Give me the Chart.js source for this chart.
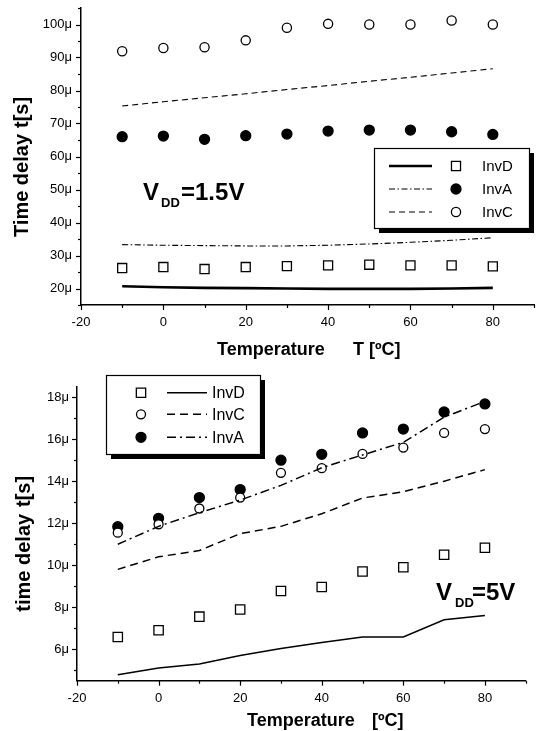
<!DOCTYPE html>
<html>
<head>
<meta charset="utf-8">
<script src="https://cdn.jsdelivr.net/npm/chart.js@4.4.1/dist/chart.umd.min.js"></script>
<style>
  html, body { margin: 0; padding: 0; background: #fff; }
  #wrap { position: relative; width: 537px; height: 731px; }
  canvas { position: absolute; left: 0; }
  #topChart { top: 0; }
  #botChart { top: 365px; }
</style>
</head>
<body>
<div id="wrap">
  <canvas id="topChart" width="537" height="365"></canvas>
  <canvas id="botChart" width="537" height="366"></canvas>
</div>
<script>
// temperaturas (ºC)
const temps = [-10, 0, 10, 20, 30, 40, 50, 60, 70, 80];
const xTickVals = [-20, -10, 0, 10, 20, 30, 40, 50, 60, 70, 80, 90];
const yTickValsTop = [15, 20, 25, 30, 35, 40, 45, 50, 55, 60, 65, 70, 75, 80, 85, 90, 95, 100, 105];
const yTickValsBot = [5, 6, 7, 8, 9, 10, 11, 12, 13, 14, 15, 16, 17, 18];

// VDD = 1.5V, retardo en μs
const invD15Pts = [26.2, 26.5, 25.9, 26.5, 26.8, 27.0, 27.2, 27.0, 27.0, 26.7];
const invA15Pts = [66.0, 66.2, 65.2, 66.3, 66.8, 67.7, 68.0, 68.0, 67.5, 66.7];
const invC15Pts = [91.9, 92.9, 93.1, 95.2, 99.0, 100.2, 100.0, 100.0, 101.2, 100.0];
const invD15Sim = [20.7, 20.4, 20.2, 20.1, 20.0, 19.9, 19.9, 19.9, 20.0, 20.2];
const invA15Sim = [33.3, 33.1, 33.0, 32.9, 32.9, 33.1, 33.5, 34.0, 34.6, 35.4];
const invC15Sim = [75.3, 76.6, 77.8, 79.0, 80.3, 81.5, 82.8, 84.0, 85.3, 86.6];

// VDD = 5V, retardo en μs
const invD5Pts = [6.58, 6.9, 7.55, 7.89, 8.77, 8.96, 9.7, 9.9, 10.5, 10.83];
const invC5Pts = [11.55, 11.95, 12.7, 13.22, 14.4, 14.62, 15.3, 15.6, 16.3, 16.48];
const invA5Pts = [11.83, 12.23, 13.22, 13.6, 15.0, 15.28, 16.3, 16.48, 17.3, 17.68];
const invD5Sim = [4.78, 5.11, 5.3, 5.7, 6.03, 6.32, 6.58, 6.58, 7.4, 7.6];
const invC5Sim = [9.8, 10.4, 10.7, 11.5, 11.85, 12.45, 13.2, 13.5, 14.0, 14.55];
const invA5Sim = [11.0, 11.85, 12.5, 13.1, 13.8, 14.64, 15.25, 15.85, 17.05, 17.8];

const FONT = "'Liberation Sans', Arial, sans-serif";
const xy = vals => temps.map((t, i) => ({ x: t, y: vals[i] }));

function pts(label, vals, style, filled, radius) {
  return {
    label: label, data: xy(vals), showLine: false,
    pointStyle: style, pointRadius: radius, pointHoverRadius: radius,
    pointBackgroundColor: filled ? '#000' : '#fff',
    pointBorderColor: '#000', pointBorderWidth: 1.3
  };
}
function sim(label, vals, width, dash) {
  return {
    label: label, data: xy(vals), showLine: true, pointRadius: 0,
    borderColor: '#000', borderWidth: width, borderDash: dash, tension: 0, fill: false
  };
}

// marcas de los ejes: largas en las mayores, cortas en las menores
const tickMarks = {
  id: 'tickMarks',
  afterDraw(chart, args, opts) {
    const ctx = chart.ctx;
    const sx = chart.scales.x, sy = chart.scales.y;
    ctx.save();
    ctx.strokeStyle = '#000';
    ctx.lineWidth = 1.2;
    sx.ticks.forEach(t => {
      const px = Math.round(sx.getPixelForValue(t.value)) + 0.5;
      const len = t.value % opts.xMajor === 0 ? 5 : 3;
      ctx.beginPath(); ctx.moveTo(px, sx.top); ctx.lineTo(px, sx.top + len); ctx.stroke();
    });
    sy.ticks.forEach(t => {
      const py = Math.round(sy.getPixelForValue(t.value)) + 0.5;
      const len = t.value % opts.yMajor === 0 ? 5 : 3;
      ctx.beginPath(); ctx.moveTo(sy.right, py); ctx.lineTo(sy.right - len, py); ctx.stroke();
    });
    ctx.restore();
  }
};

// leyenda con caja y sombra
function drawMarker(ctx, ds, x, y) {
  ctx.save();
  ctx.fillStyle = ds.pointBackgroundColor;
  ctx.strokeStyle = '#000';
  ctx.lineWidth = ds.pointBorderWidth;
  ctx.beginPath();
  if (ds.pointStyle === 'rect') {
    const h = ds.pointRadius * Math.SQRT1_2;
    ctx.rect(x - h, y - h, 2 * h, 2 * h);
  } else {
    ctx.arc(x, y, ds.pointRadius, 0, Math.PI * 2);
  }
  ctx.fill(); ctx.stroke();
  ctx.restore();
}
const boxLegend = {
  id: 'boxLegend',
  afterDraw(chart, args, o) {
    const ctx = chart.ctx;
    const ds = chart.data.datasets;
    ctx.save();
    ctx.fillStyle = '#000';
    ctx.fillRect(o.box[0] + o.shadow, o.box[1] + o.shadow, o.box[2], o.box[3]);
    ctx.fillStyle = '#fff';
    ctx.fillRect(o.box[0], o.box[1], o.box[2], o.box[3]);
    ctx.strokeStyle = '#000';
    ctx.lineWidth = 1.2;
    ctx.strokeRect(o.box[0] + 0.5, o.box[1] + 0.5, o.box[2], o.box[3]);
    o.rows.forEach(r => {
      const line = ds[r.line];
      ctx.save();
      ctx.strokeStyle = '#000';
      ctx.lineWidth = line.borderWidth;
      ctx.setLineDash(line.borderDash || []);
      ctx.beginPath(); ctx.moveTo(o.lineX[0], r.y); ctx.lineTo(o.lineX[1], r.y); ctx.stroke();
      ctx.restore();
      drawMarker(ctx, ds[r.marker], o.markerX, r.y);
      ctx.fillStyle = '#000';
      ctx.font = o.font + 'px ' + FONT;
      ctx.textBaseline = 'middle';
      ctx.textAlign = 'left';
      ctx.fillText(line.label, o.textX, r.y + 1);
    });
    ctx.restore();
  }
};

// títulos de ejes y rótulo VDD
const textLayer = {
  id: 'textLayer',
  afterDraw(chart, args, o) {
    const ctx = chart.ctx;
    ctx.save();
    ctx.fillStyle = '#000';
    ctx.textBaseline = 'alphabetic';
    ctx.textAlign = 'left';
    ctx.font = 'bold 18px ' + FONT;
    o.xTitle.forEach(p => ctx.fillText(p[0], p[1], o.xTitleY));
    ctx.save();
    ctx.translate(o.yTitleX, 0);
    ctx.rotate(-Math.PI / 2);
    ctx.font = 'bold 20px ' + FONT;
    o.yTitle.forEach(p => ctx.fillText(p[0], -p[1], 0));
    ctx.restore();
    const v = o.vdd;
    ctx.font = 'bold 24px ' + FONT;
    ctx.fillText('V', v.x, v.y);
    ctx.font = 'bold 13px ' + FONT;
    ctx.fillText('DD', v.subX, v.y + 6.5);
    ctx.font = 'bold 24px ' + FONT;
    ctx.fillText(v.rest, v.restX, v.y);
    ctx.restore();
  }
};

function axes(yMin, yMax, yTicks, yLabel, g) {
  return {
    x: {
      type: 'linear', min: -20, max: 90,
      afterBuildTicks: s => { s.ticks = xTickVals.map(v => ({ value: v })); },
      afterFit: s => { s.height = g.xh; s.paddingLeft = 0; s.paddingRight = 0; },
      grid: { display: false, drawTicks: false },
      border: { display: true, color: '#000', width: 1.5 },
      ticks: {
        autoSkip: false, maxRotation: 0, padding: 10,
        color: '#000', font: { family: FONT, size: 13 },
        callback: v => (v % 20 === 0 ? String(v) : '')
      }
    },
    y: {
      type: 'linear', min: yMin, max: yMax,
      afterBuildTicks: s => { s.ticks = yTicks.map(v => ({ value: v })); },
      afterFit: s => { s.width = g.yw; s.paddingTop = 0; s.paddingBottom = 0; },
      grid: { display: false, drawTicks: false },
      border: { display: true, color: '#000', width: 1.5 },
      ticks: {
        autoSkip: false, padding: g.yPad,
        color: '#000', font: { family: FONT, size: 13 },
        callback: yLabel
      }
    }
  };
}

const base = {
  responsive: false, animation: false, devicePixelRatio: 1,
  plugins: { legend: { display: false }, tooltip: { enabled: false } }
};

new Chart(document.getElementById('topChart'), {
  type: 'scatter',
  data: {
    datasets: [
      sim('InvD', invD15Sim, 2.6, []),
      sim('InvA', invA15Sim, 1.1, [6, 2.5, 1.5, 2.5]),
      sim('InvC', invC15Sim, 1.1, [6, 4]),
      pts('InvD', invD15Pts, 'rect', false, 6.4),
      pts('InvA', invA15Pts, 'circle', true, 5),
      pts('InvC', invC15Pts, 'circle', false, 4.6)
    ]
  },
  options: Object.assign({}, base, {
    layout: { autoPadding: false, padding: { top: 8, right: 3, bottom: 0, left: 0 } },
    scales: axes(15, 105, yTickValsTop, v => (v % 10 === 0 ? v + 'μ' : ''), { xh: 60, yw: 81, yPad: 9 }),
    plugins: Object.assign({}, base.plugins, {
      tickMarks: { xMajor: 20, yMajor: 10 },
      boxLegend: {
        box: [374, 148, 155, 80], shadow: 5,
        rows: [{ y: 166, line: 0, marker: 3 }, { y: 189, line: 1, marker: 4 }, { y: 212, line: 2, marker: 5 }],
        lineX: [389, 432], markerX: 456, textX: 482, font: 15
      },
      textLayer: {
        xTitle: [['Temperature', 217], ['T [ºC]', 353]], xTitleY: 355,
        yTitle: [['Time delay', 237], ['t[s]', 128]], yTitleX: 28,
        vdd: { x: 143, y: 200, subX: 161, rest: '=1.5V', restX: 181 }
      }
    })
  }),
  plugins: [tickMarks, boxLegend, textLayer]
});

new Chart(document.getElementById('botChart'), {
  type: 'scatter',
  data: {
    datasets: [
      sim('InvD', invD5Sim, 1.5, []),
      sim('InvC', invC5Sim, 1.5, [8, 5]),
      sim('InvA', invA5Sim, 1.5, [9, 4, 2, 4]),
      pts('InvD', invD5Pts, 'rect', false, 6.6),
      pts('InvC', invC5Pts, 'circle', false, 4.5),
      pts('InvA', invA5Pts, 'circle', true, 5)
    ]
  },
  options: Object.assign({}, base, {
    layout: { autoPadding: false, padding: { top: 21.7, right: 11.3, bottom: 0, left: 0 } },
    scales: axes(4.5, 18.5, yTickValsBot, v => (v % 2 === 0 ? v + 'μ' : ''), { xh: 50.3, yw: 77, yPad: 8 }),
    plugins: Object.assign({}, base.plugins, {
      tickMarks: { xMajor: 20, yMajor: 2 },
      boxLegend: {
        box: [106, 10, 154, 79], shadow: 5,
        rows: [{ y: 27.7, line: 0, marker: 3 }, { y: 49.3, line: 1, marker: 4 }, { y: 72.3, line: 2, marker: 5 }],
        lineX: [167, 207], markerX: 141, textX: 212, font: 16
      },
      textLayer: {
        xTitle: [['Temperature', 247], ['[ºC]', 372]], xTitleY: 360.7,
        yTitle: [['time delay', 246.7], ['t[s]', 142]], yTitleX: 30,
        vdd: { x: 436, y: 235, subX: 455, rest: '=5V', restX: 472 }
      }
    })
  }),
  plugins: [tickMarks, boxLegend, textLayer]
});
</script>
</body>
</html>
